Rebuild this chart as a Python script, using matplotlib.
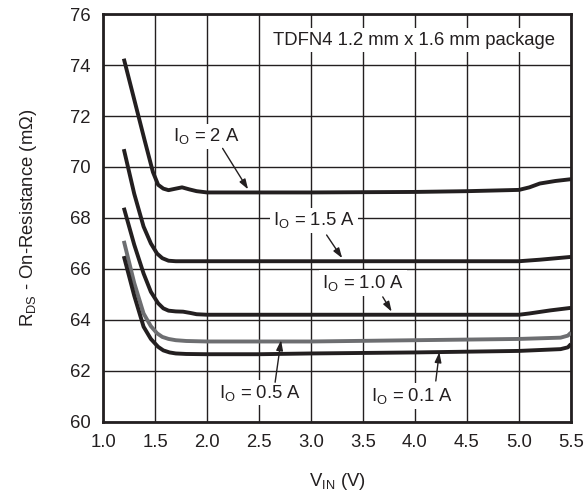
import matplotlib
matplotlib.use("Agg")
import matplotlib.pyplot as plt

plt.rcParams['font.family'] = ['Liberation Sans', 'DejaVu Sans']
plt.rcParams['mathtext.default'] = 'regular'

# ---- data (V_IN in V, R_DS in mOhm) ----
vin_2a = [1.2, 1.3, 1.4, 1.48, 1.53, 1.58, 1.63, 1.7, 1.76, 1.83, 1.9, 2.0, 3.0, 4.0, 4.5, 5.0, 5.1, 5.2, 5.35, 5.5]
rds_2a = [74.25, 72.65, 71.05, 69.8, 69.3, 69.15, 69.09, 69.15, 69.2, 69.12, 69.05, 69.0, 69.0, 69.02, 69.05, 69.1, 69.2, 69.35, 69.45, 69.52]

vin_15a = [1.2, 1.3, 1.39, 1.46, 1.52, 1.57, 1.63, 1.7, 2.0, 3.0, 4.0, 5.0, 5.2, 5.5]
rds_15a = [70.7, 68.95, 67.66, 67.0, 66.6, 66.42, 66.32, 66.3, 66.3, 66.3, 66.3, 66.3, 66.36, 66.47]

vin_10a = [1.2, 1.3, 1.39, 1.46, 1.53, 1.58, 1.63, 1.7, 1.77, 1.84, 1.9, 2.0, 3.0, 4.0, 5.0, 5.1, 5.3, 5.5]
rds_10a = [68.4, 66.95, 65.82, 65.1, 64.65, 64.45, 64.36, 64.33, 64.32, 64.27, 64.22, 64.2, 64.2, 64.2, 64.2, 64.25, 64.37, 64.47]

vin_05a = [1.2, 1.3, 1.39, 1.46, 1.52, 1.57, 1.63, 1.7, 1.8, 2.0, 3.0, 4.0, 5.0, 5.4, 5.47, 5.5]
rds_05a = [67.1, 65.45, 64.25, 63.75, 63.47, 63.33, 63.25, 63.2, 63.17, 63.15, 63.15, 63.2, 63.25, 63.3, 63.38, 63.5]

vin_01a = [1.2, 1.3, 1.39, 1.46, 1.53, 1.58, 1.64, 1.7, 1.8, 2.0, 2.5, 3.0, 4.0, 5.0, 5.4, 5.47, 5.5]
rds_01a = [66.5, 64.95, 63.73, 63.25, 62.94, 62.8, 62.72, 62.68, 62.66, 62.65, 62.65, 62.68, 62.72, 62.78, 62.85, 62.92, 63.05]

x_ticks = [1.0, 1.5, 2.0, 2.5, 3.0, 3.5, 4.0, 4.5, 5.0, 5.5]
x_tick_labels = ['1.0', '1.5', '2.0', '2.5', '3.0', '3.5', '4.0', '4.5', '5.0', '5.5']
y_ticks = [60, 62, 64, 66, 68, 70, 72, 74, 76]

labels = ['I$_O$ = 2 A', 'I$_O$ = 1.5 A', 'I$_O$ = 1.0 A', 'I$_O$ = 0.5 A', 'I$_O$ = 0.1 A']
label_text_xy = [(1.99, 71.2), (3.03, 67.9), (3.5, 65.45), (2.51, 61.14), (3.975, 61.0)]
arrow_start_xy = [(2.15, 70.73), (3.15, 67.33), (3.69, 64.9), (2.655, 61.55), (4.2, 61.6)]
arrow_end_xy = [(2.395, 69.12), (3.30, 66.42), (3.776, 64.32), (2.712, 63.2), (4.234, 62.73)]

note = 'TDFN4 1.2 mm x 1.6 mm package'

# ---- figure ----
dark = '#231f20'
gray = '#6d6e71'
fs = 13.3

fig = plt.figure(figsize=(5.84, 4.95), dpi=100)
ax = fig.add_axes([0.1764, 0.148, 0.8013, 0.8235])

ax.set_xlim(1.0, 5.5)
ax.set_ylim(60, 76)
ax.set_xticks(x_ticks)
ax.set_xticklabels(x_tick_labels)
ax.set_yticks(y_ticks)
ax.tick_params(axis='both', length=0, pad=9, labelsize=fs, colors=dark)
ax.grid(True, color=dark, linewidth=1.0)
ax.set_axisbelow(True)
for s in ax.spines.values():
    s.set_linewidth(2.0)
    s.set_color(dark)

lw = 2.8
ax.plot(vin_2a, rds_2a, color=dark, lw=lw, solid_capstyle='butt', zorder=3)
ax.plot(vin_15a, rds_15a, color=dark, lw=lw, solid_capstyle='butt', zorder=3)
ax.plot(vin_10a, rds_10a, color=dark, lw=lw, solid_capstyle='butt', zorder=3)
ax.plot(vin_05a, rds_05a, color=gray, lw=lw, solid_capstyle='butt', zorder=3)
ax.plot(vin_01a, rds_01a, color=dark, lw=lw, solid_capstyle='butt', zorder=3)

for lab, txy in zip(labels, label_text_xy):
    ax.text(txy[0], txy[1], lab, ha='center', va='center', fontsize=fs, color=dark,
            zorder=4, bbox=dict(boxstyle='square,pad=0.15', fc='white', ec='none'))

for sxy, exy in zip(arrow_start_xy, arrow_end_xy):
    ax.annotate('', xy=exy, xytext=sxy, zorder=5,
                arrowprops=dict(arrowstyle='-|>,head_length=0.6,head_width=0.2',
                                color=dark, lw=1.0, shrinkA=0, shrinkB=0))

ax.text(3.995, 74.98, note, ha='center', va='center', fontsize=fs, color=dark,
        zorder=4, bbox=dict(boxstyle='square,pad=0.2', fc='white', ec='none'))

ax.set_xlabel('V$_{IN}$ (V)', fontsize=fs, color=dark, labelpad=14)
ax.set_ylabel('R$_{DS}$ - On-Resistance (m\u03a9)', fontsize=fs, color=dark, labelpad=22)

fig.savefig('out.png', dpi=100)
